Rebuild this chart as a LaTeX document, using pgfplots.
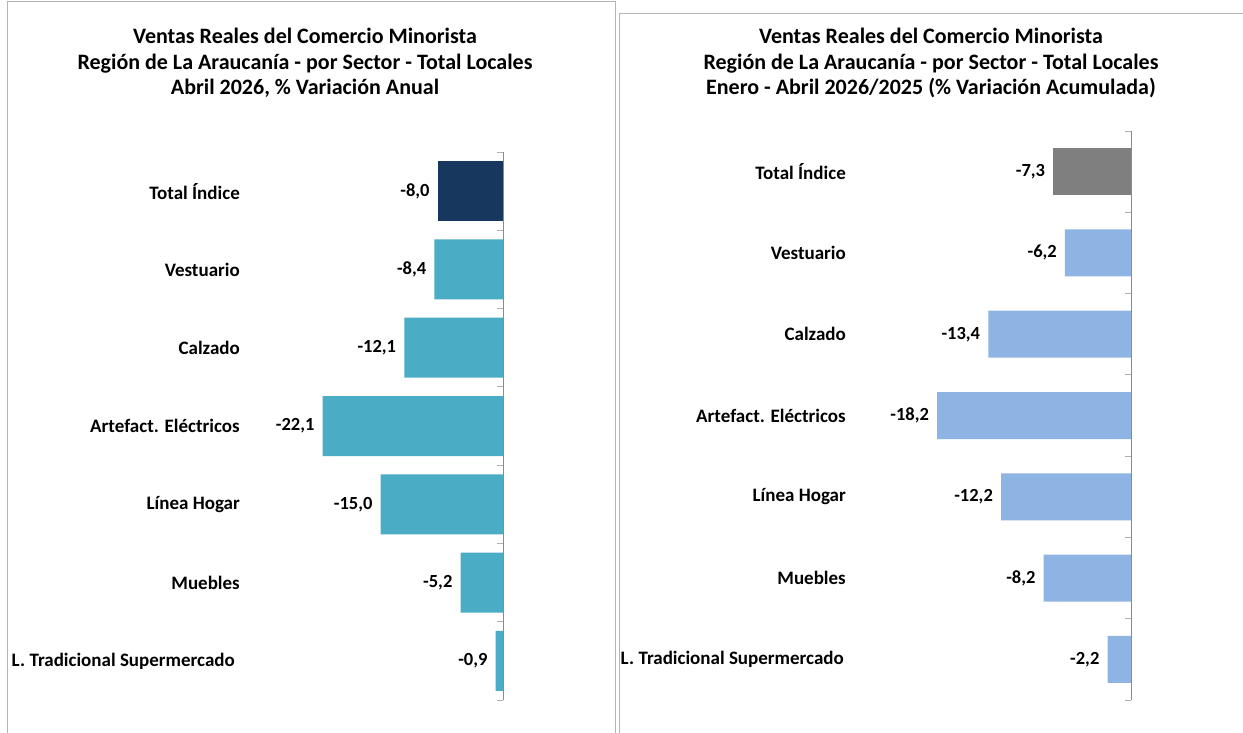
\documentclass[border=0pt]{standalone}
\usepackage{fontspec}
\setmainfont{Carlito}
\usepackage{pgfplots}
\pgfplotsset{compat=1.18}

\definecolor{navy}{HTML}{17375E}
\definecolor{turq}{HTML}{4BACC6}
\definecolor{gris}{HTML}{7F7F7F}
\definecolor{celeste}{HTML}{8DB4E2}
\definecolor{borde}{HTML}{B4B4B4}
\definecolor{eje}{HTML}{8A8A8A}
\definecolor{marca}{HTML}{B0B0B0}

\pgfplotsset{
  panel/.style={
    xbar, scale only axis, enlargelimits=false, clip=false,
    axis line style={draw=none},
    xtick=\empty,
    y dir=reverse,
    ymin=-0.5, ymax=6.5, xmax=0,
    ytick={0,...,6},
    yticklabels={Total Índice,Vestuario,Calzado,Artefact. Eléctricos,Línea Hogar,Muebles,L. Tradicional Supermercado\hspace*{5pt}},
    ytick pos=right,
    yticklabel pos=left,
    major tick length=0pt,
    minor ytick={-0.5,0.5,...,6.5},
    minor tick length=6pt,
    tick align=inside,
    minor tick style={draw=marca, line width=1pt},
    yticklabel style={font=\fontsize{19}{22}\selectfont\bfseries, text=black, inner sep=0pt, xshift=-6pt},
    point meta=x,
    nodes near coords={\pgfmathprintnumber[fixed,fixed zerofill,precision=1,use comma,assume math mode=true]{\pgfplotspointmeta}},
    nodes near coords style={anchor=east, inner sep=0pt, xshift=-8pt, font=\fontsize{18.5}{21}\selectfont\bfseries, text=black},
  }
}

\begin{document}
\begin{tikzpicture}
\useasboundingbox (0pt,0pt) rectangle (1243pt,733pt);
\fill[white] (0pt,0pt) rectangle (1243pt,733pt);

% panel frames
\draw[borde, line width=1pt] (7pt,0pt) -- (7pt,731pt) -- (615pt,731pt) -- (615pt,0pt);
\draw[borde, line width=1pt] (619pt,0pt) -- (619pt,719pt) -- (1243pt,719pt);

% titles
\node[align=center, font=\fontsize{22}{25.5}\selectfont\bfseries] at (305pt,670pt)
  {Ventas Reales del Comercio Minorista\\Región de La Araucanía - por Sector - Total Locales\\Abril 2026, \% Variación Anual};
\node[align=center, font=\fontsize{22}{25.5}\selectfont\bfseries] at (931pt,670pt)
  {Ventas Reales del Comercio Minorista\\Región de La Araucanía - por Sector - Total Locales\\Enero - Abril 2026/2025 (\% Variación Acumulada)};

% left: variación anual
\begin{axis}[panel, at={(246pt,33pt)}, anchor=south west, width=257pt, height=548pt, xmin=-31.5]
\addplot[fill=navy, draw=none, bar width=60pt, bar shift=0pt] coordinates {(-8.0,0)};
\addplot[fill=turq, draw=none, bar width=60pt, bar shift=0pt] coordinates {
  (-8.4,1) (-12.1,2) (-22.1,3) (-15.0,4) (-5.2,5) (-0.9,6)};
\draw[eje, line width=1.2pt] ([xshift=0.6pt]axis cs:0,-0.5) -- ([xshift=0.6pt]axis cs:0,6.5);
\end{axis}

% right: variación acumulada
\begin{axis}[panel, at={(852pt,33pt)}, anchor=south west, width=279pt, height=569pt, xmin=-26.2,
  yticklabels={Total Índice,Vestuario,Calzado,Artefact. Eléctricos,Línea Hogar,Muebles,L. Tradicional Supermercado\hspace*{2pt}}]
\addplot[fill=gris, draw=none, bar width=47pt, bar shift=0pt] coordinates {(-7.3,0)};
\addplot[fill=celeste, draw=none, bar width=47pt, bar shift=0pt] coordinates {
  (-6.2,1) (-13.4,2) (-18.2,3) (-12.2,4) (-8.2,5) (-2.2,6)};
\draw[eje, line width=1.2pt] ([xshift=0.6pt]axis cs:0,-0.5) -- ([xshift=0.6pt]axis cs:0,6.5);
\end{axis}
\end{tikzpicture}
\end{document}
